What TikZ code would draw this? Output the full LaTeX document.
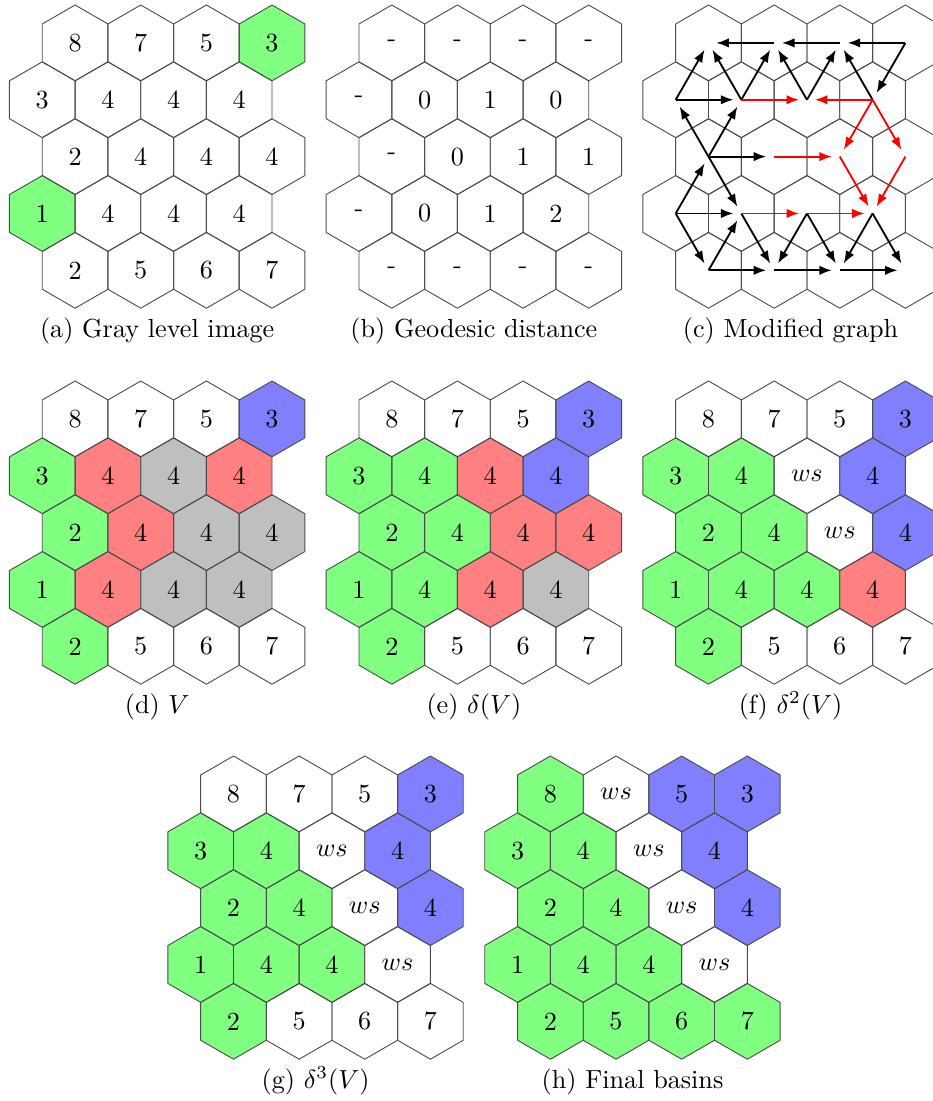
\documentclass[tikz,border=0pt]{standalone}
\usetikzlibrary{arrows.meta}
\pgfdeclarelayer{fg}
\pgfsetlayers{main,fg}
\definecolor{cg}{HTML}{80FF80}
\definecolor{cr}{HTML}{FF8080}
\definecolor{cb}{HTML}{8080FF}
\definecolor{cy}{HTML}{BFBFBF}
\tikzset{
  hexline/.style={draw=black!70, line width=0.35pt, line join=round},
  celltext/.style={inner sep=0pt},
  captext/.style={anchor=base, inner sep=0pt},
  arr/.style={-{Latex[length=4.8pt,width=3.6pt]}, line width=0.7pt, shorten >=3pt},
  arrb/.style={arr, draw=black},
  arrr/.style={arr, draw=red},
}
\newcommand{\hexcell}[7]{%
  \pgfmathsetmacro{\hx}{#2+75.1+65.64*#5-32.82*mod(#4,2)}%
  \pgfmathsetmacro{\hy}{#3+42.9+56.85*#4}%
  \coordinate (#1) at (\hx,\hy);
  \fill[#6] (#1) +(90:37.9) -- +(30:37.9) -- +(-30:37.9) -- +(-90:37.9) -- +(-150:37.9) -- +(150:37.9) -- cycle;
  \begin{pgfonlayer}{fg}
  \draw[hexline] (#1) +(90:37.9) -- +(30:37.9) -- +(-30:37.9) -- +(-90:37.9) -- +(-150:37.9) -- +(150:37.9) -- cycle;
  \node[celltext] (#1-t) at (#1) {#7};
  \end{pgfonlayer}
}
\newcommand{\hexpanel}[4]{%
  \foreach \hr/\hc/\hf/\htx in {#4} {\hexcell{#1\hr\hc}{#2}{#3}{\hr}{\hc}{\hf}{\htx}}%
}
\begin{document}
\begin{tikzpicture}[x=0.3821pt,y=-0.3821pt]
\useasboundingbox (0,0) rectangle (933,1101);
% (a)
\hexpanel{a}{0}{0}{0/0/white/8,0/1/white/7,0/2/white/5,0/3/cg/3,
 1/0/white/3,1/1/white/4,1/2/white/4,1/3/white/4,
 2/0/white/2,2/1/white/4,2/2/white/4,2/3/white/4,
 3/0/cg/1,3/1/white/4,3/2/white/4,3/3/white/4,
 4/0/white/2,4/1/white/5,4/2/white/6,4/3/white/7}
\node[captext] (capa) at (157.2,337) {(a) Gray level image};
% (b)
\hexpanel{b}{316.7}{0}{0/0/white/-,0/1/white/-,0/2/white/-,0/3/white/-,
 1/0/white/-,1/1/white/0,1/2/white/1,1/3/white/0,
 2/0/white/-,2/1/white/0,2/2/white/1,2/3/white/1,
 3/0/white/-,3/1/white/0,3/2/white/1,3/3/white/2,
 4/0/white/-,4/1/white/-,4/2/white/-,4/3/white/-}
\node[captext] (capb) at (473.9,337) {(b) Geodesic distance};
% (c)
\hexpanel{c}{633.4}{0}{0/0/white/\relax,0/1/white/\relax,0/2/white/\relax,0/3/white/\relax,
 1/0/white/\relax,1/1/white/\relax,1/2/white/\relax,1/3/white/\relax,
 2/0/white/\relax,2/1/white/\relax,2/2/white/\relax,2/3/white/\relax,
 3/0/white/\relax,3/1/white/\relax,3/2/white/\relax,3/3/white/\relax,
 4/0/white/\relax,4/1/white/\relax,4/2/white/\relax,4/3/white/\relax}
\node[captext] (capc) at (790.6,337) {(c) Modified graph};
\begin{pgfonlayer}{fg}
\foreach \s/\t in {c03/c02,c02/c01,c01/c00,c03/c13,
  c10/c00,c10/c11,c11/c00,c11/c01,c12/c01,c12/c02,c13/c02,
  c20/c10,c20/c11,c20/c21,c20/c31,
  c30/c20,c30/c31,c30/c40,
  c31/c41,c32/c41,c32/c42,c33/c42,c33/c43,
  c40/c31,c40/c41,c41/c42,c42/c43}
  {\draw[arrb] (\s) -- (\t);}
\foreach \s/\t in {c11/c12,c13/c12,c13/c22,c13/c23,c21/c22,c22/c33,c23/c33,c31/c32,c32/c33}
  {\draw[arrr] (\s) -- (\t);}
\end{pgfonlayer}
% (d)
\hexpanel{d}{0}{376}{0/0/white/8,0/1/white/7,0/2/white/5,0/3/cb/3,
 1/0/cg/3,1/1/cr/4,1/2/cy/4,1/3/cr/4,
 2/0/cg/2,2/1/cr/4,2/2/cy/4,2/3/cy/4,
 3/0/cg/1,3/1/cr/4,3/2/cy/4,3/3/cy/4,
 4/0/cg/2,4/1/white/5,4/2/white/6,4/3/white/7}
\node[captext] (capd) at (157.2,713) {(d) $V$};
% (e)
\hexpanel{e}{316.7}{376}{0/0/white/8,0/1/white/7,0/2/white/5,0/3/cb/3,
 1/0/cg/3,1/1/cg/4,1/2/cr/4,1/3/cb/4,
 2/0/cg/2,2/1/cg/4,2/2/cr/4,2/3/cr/4,
 3/0/cg/1,3/1/cg/4,3/2/cr/4,3/3/cy/4,
 4/0/cg/2,4/1/white/5,4/2/white/6,4/3/white/7}
\node[captext] (cape) at (473.9,713) {(e) $\delta(V)$};
% (f)
\hexpanel{f}{633.4}{376}{0/0/white/8,0/1/white/7,0/2/white/5,0/3/cb/3,
 1/0/cg/3,1/1/cg/4,1/2/white/$ws$,1/3/cb/4,
 2/0/cg/2,2/1/cg/4,2/2/white/$ws$,2/3/cb/4,
 3/0/cg/1,3/1/cg/4,3/2/cg/4,3/3/cr/4,
 4/0/cg/2,4/1/white/5,4/2/white/6,4/3/white/7}
\node[captext] (capf) at (790.6,713) {(f) $\delta^2(V)$};
% (g)
\hexpanel{g}{158.4}{751}{0/0/white/8,0/1/white/7,0/2/white/5,0/3/cb/3,
 1/0/cg/3,1/1/cg/4,1/2/white/$ws$,1/3/cb/4,
 2/0/cg/2,2/1/cg/4,2/2/white/$ws$,2/3/cb/4,
 3/0/cg/1,3/1/cg/4,3/2/cg/4,3/3/white/$ws$,
 4/0/cg/2,4/1/white/5,4/2/white/6,4/3/white/7}
\node[captext] (capg) at (315.6,1088) {(g) $\delta^3(V)$};
% (h)
\hexpanel{h}{475.3}{751}{0/0/cg/8,0/1/white/$ws$,0/2/cb/5,0/3/cb/3,
 1/0/cg/3,1/1/cg/4,1/2/white/$ws$,1/3/cb/4,
 2/0/cg/2,2/1/cg/4,2/2/white/$ws$,2/3/cb/4,
 3/0/cg/1,3/1/cg/4,3/2/cg/4,3/3/white/$ws$,
 4/0/cg/2,4/1/cg/5,4/2/cg/6,4/3/cg/7}
\node[captext] (caph) at (632.5,1088) {(h) Final basins};
\end{tikzpicture}
\end{document}
